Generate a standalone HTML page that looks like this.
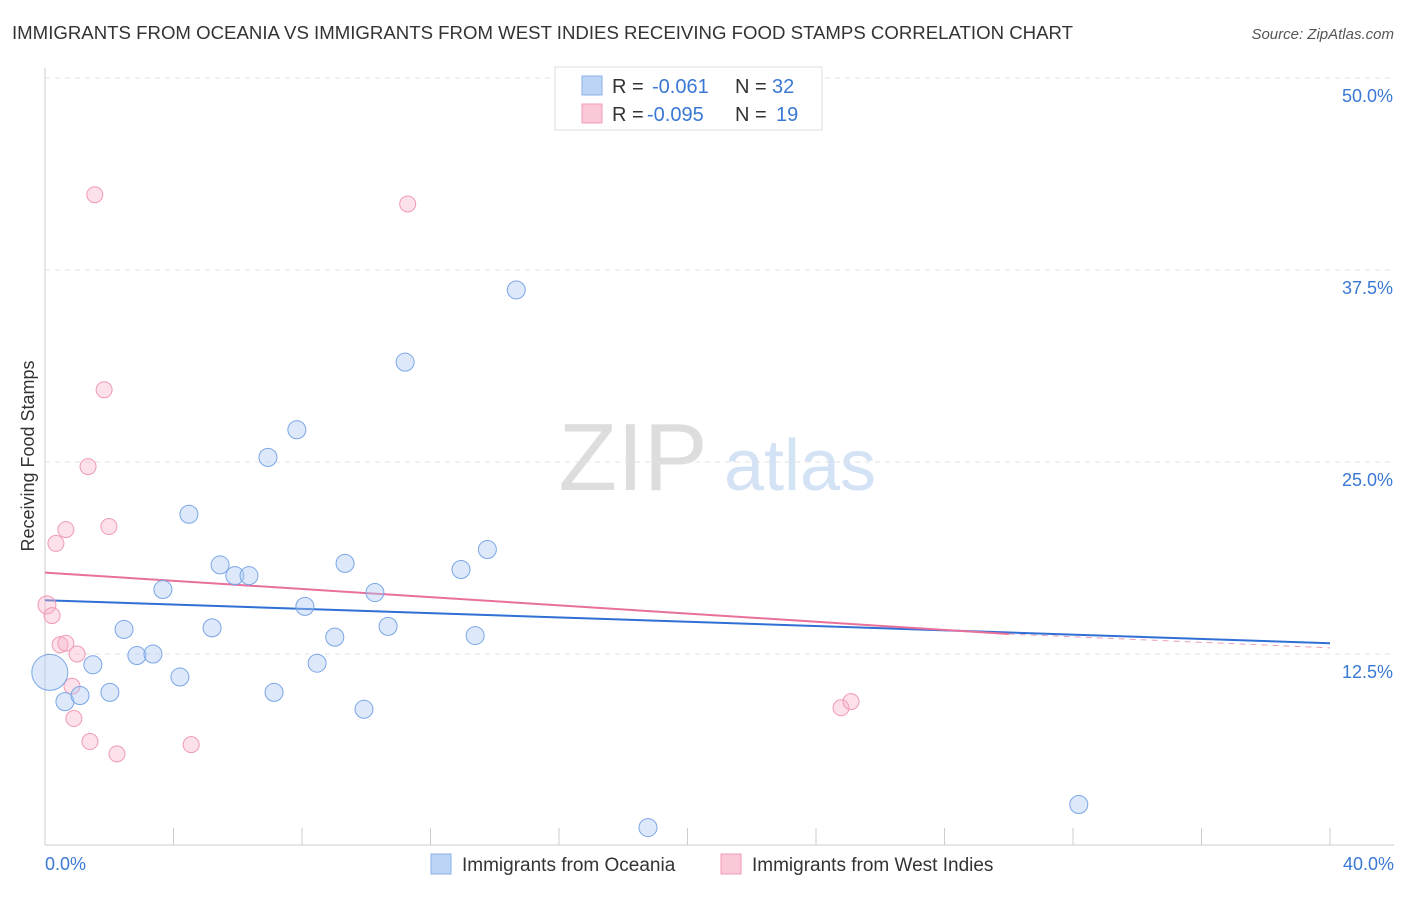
<!DOCTYPE html>
<html><head><meta charset="utf-8"><style>
body{margin:0;background:#fff;font-family:"Liberation Sans",sans-serif;}
svg text{font-family:"Liberation Sans",sans-serif;}
</style></head><body>
<svg id="c" width="1406" height="892" xmlns="http://www.w3.org/2000/svg">
<text x="12" y="39" font-size="18" fill="#333" textLength="1061" lengthAdjust="spacingAndGlyphs">IMMIGRANTS FROM OCEANIA VS IMMIGRANTS FROM WEST INDIES RECEIVING FOOD STAMPS CORRELATION CHART</text>
<text x="1394" y="39" font-size="15" fill="#555" text-anchor="end" font-style="italic">Source: ZipAtlas.com</text>
<text x="633" y="490" font-size="96" fill="#ddd" font-family="Liberation Serif" text-anchor="middle">ZIP</text>
<text x="800" y="490" font-size="72" fill="#d3e2f4" text-anchor="middle">atlas</text>
<g id="grid"></g>
<line x1="45" y1="68" x2="45" y2="845" stroke="#ccc"/>
<line x1="45" y1="845" x2="1394" y2="845" stroke="#ccc"/>
<g id="ticks"></g>
<text transform="translate(34,456) rotate(-90)" font-size="18" fill="#333" text-anchor="middle">Receiving Food Stamps</text>
<text x="45" y="870" font-size="18" fill="#3a78d4">0.0%</text>
<text x="1394" y="870" font-size="18" fill="#3a78d4" text-anchor="end">40.0%</text>
<g id="trend"></g>
<g id="pts"></g>
<g>
<rect x="555" y="67" width="267" height="63" fill="#fff" stroke="#ddd"/>
<rect x="582" y="76" width="20" height="19" fill="#bcd5f5" stroke="#8ab2ea"/>
<rect x="582" y="104" width="20" height="19" fill="#fbc8d7" stroke="#f09ab5"/>
<text x="612" y="93" font-size="20" fill="#333">R =</text>
<text x="652" y="93" font-size="20" fill="#3a78d4">-0.061</text>
<text x="735" y="93" font-size="20" fill="#333">N =</text>
<text x="772" y="93" font-size="20" fill="#3a78d4">32</text>
<text x="612" y="121" font-size="20" fill="#333">R =</text>
<text x="647" y="121" font-size="20" fill="#3a78d4">-0.095</text>
<text x="735" y="121" font-size="20" fill="#333">N =</text>
<text x="776" y="121" font-size="20" fill="#3a78d4">19</text>
</g>
<g>
<rect x="431" y="854" width="20" height="20" fill="#bcd5f5" stroke="#8ab2ea"/>
<text x="462" y="871" font-size="19" fill="#333">Immigrants from Oceania</text>
<rect x="721" y="854" width="20" height="20" fill="#fbc8d7" stroke="#f09ab5"/>
<text x="752" y="871" font-size="19" fill="#333">Immigrants from West Indies</text>
</g>
</svg>
<script>
const yTicks=[12.5,25,37.5,50];
const yTickLabels=["12.5%","25.0%","37.5%","50.0%"];
const blueX=[0.15,0.62,1.09,1.49,2.02,2.46,2.86,3.36,3.67,4.2,4.48,5.2,5.45,5.91,6.35,6.94,7.13,7.84,8.09,8.47,9.02,9.34,9.93,10.27,10.68,11.21,12.95,13.39,13.77,14.67,18.77,32.18];
const blueY=[11.3,9.4,9.8,11.8,10.0,14.1,12.4,12.5,16.7,11.0,21.6,14.2,18.3,17.6,17.6,25.3,10.0,27.1,15.6,11.9,13.6,18.4,8.9,16.5,14.3,31.5,18.0,13.7,19.3,36.2,1.2,2.7];
const blueR=[18,9,9,9,9,9,9,9,9,9,9,9,9,9,9,9,9,9,9,9,9,9,9,9,9,9,9,9,9,9,9,9];
const pinkX=[1.55,11.29,1.84,1.34,1.99,0.65,0.34,0.06,0.22,0.47,0.65,1.0,0.84,0.9,1.4,2.24,4.55,24.78,25.09];
const pinkY=[42.4,41.8,29.7,24.7,20.8,20.6,19.7,15.7,15.0,13.1,13.2,12.5,10.4,8.3,6.8,6.0,6.6,9.0,9.4];
const pinkR=[8,8,8,8,8,8,8,9,8,8,8,8,8,8,8,8,8,8,8];
const blueTrend=[16.0,13.2];
const pinkTrend=[17.8,13.8,12.9];
const xt=v=>45+v/40*1285, yt=v=>846-v/50*768;
const NS="http://www.w3.org/2000/svg";
function mk(tag,attrs,parent){const e=document.createElementNS(NS,tag);for(const k in attrs)e.setAttribute(k,attrs[k]);document.getElementById(parent).appendChild(e);return e;}
yTicks.forEach((t,i)=>{
 const l=mk('line',{x1:45,x2:1394,y1:yt(t),y2:yt(t),stroke:'#e2e2e2','stroke-dasharray':'5,5'},'grid');
 
 
 const tx=mk('text',{x:1393,y:yt(t)+24,'font-size':18,fill:'#3a78d4','text-anchor':'end'},'grid');
 tx.textContent=yTickLabels[i];
 
 
});
for(let i=0;i<=10;i++){
 const l=mk('line',{x1:xt(i*4),x2:xt(i*4),y1:828,y2:845,stroke:'#ccc'},'ticks');
 
 
}
let t=mk('line',{x1:xt(0),y1:yt(blueTrend[0]),x2:xt(40),y2:yt(blueTrend[1]),stroke:'#2f6fd6','stroke-width':2},'trend');


t=mk('line',{x1:xt(0),y1:yt(pinkTrend[0]),x2:xt(30),y2:yt(pinkTrend[1]),stroke:'#e8709a','stroke-width':2},'trend');


t=mk('line',{x1:xt(30),y1:yt(pinkTrend[1]),x2:xt(40),y2:yt(pinkTrend[2]),stroke:'#e8a0b8','stroke-width':1,'stroke-dasharray':'6,5'},'trend');


pinkX.forEach((x,i)=>{
 const c=mk('circle',{cx:xt(x),cy:yt(pinkY[i]),r:pinkR[i],fill:'rgba(248,180,202,0.4)',stroke:'#f09ab5','stroke-width':1},'pts');
 
 
});
blueX.forEach((x,i)=>{
 const c=mk('circle',{cx:xt(x),cy:yt(blueY[i]),r:blueR[i],fill:'rgba(170,200,245,0.4)',stroke:'#7aa6e6','stroke-width':1},'pts');
 
 
});
</script>
</body></html>
